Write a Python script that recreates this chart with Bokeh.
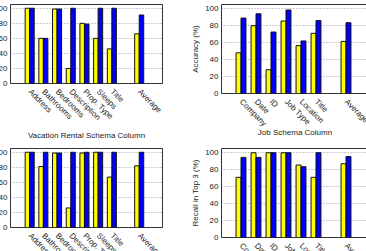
from bokeh.plotting import figure
from bokeh.layouts import column, row
from bokeh.models import FixedTicker, ColumnDataSource, Label, Range1d
from bokeh.transform import dodge
from bokeh.embed import file_html
from bokeh.resources import INLINE

# ---- data ----
vac_cols = ["Address", "Bathrooms", "Bedrooms", "Description", "Prop. Type", "Sleeps", "Title", "Average"]
vac_pos = [0, 1, 2, 3, 4, 5, 6, 8]
vac_acc_yellow = [100, 60, 99, 20, 80, 60, 46, 66]
vac_acc_blue = [100, 60, 99, 100, 79, 100, 100, 91]
vac_rec_yellow = [100, 81, 99, 26, 99, 100, 67, 82]
vac_rec_blue = [100, 100, 99, 100, 100, 100, 100, 100]

job_cols = ["Company", "Date", "ID", "Job Type", "Location", "Title", "Average"]
job_pos = [0, 1, 2, 3, 4, 5, 7]
job_acc_yellow = [48, 80, 28, 85.5, 56.5, 71, 61.5]
job_acc_blue = [89, 94, 72.5, 98.5, 62, 86, 83.5]
job_rec_yellow = [71, 100, 100, 100, 85.5, 71, 87]
job_rec_blue = [94.5, 94.5, 100, 100, 83.5, 100, 95.5]

y_ticks = [0, 20, 40, 60, 80, 100]

FONT = "Liberation Sans"
FS = "8px"
TXT = "#222222"
BW = 0.33


def panel(cats, pos, yel, blu, xr, fw, fh, ylabel=None, xlabel=None, xl_standoff=3,
          mb_right=0, mb_top=4, mb_bottom=0):
    p = figure(frame_width=fw, frame_height=fh, output_backend="svg",
               toolbar_location=None, x_range=Range1d(*xr), y_range=Range1d(0, 105),
               min_border_left=0, min_border_right=mb_right,
               min_border_top=mb_top, min_border_bottom=mb_bottom)
    src = ColumnDataSource(dict(x=pos, yel=yel, blu=blu))
    p.vbar(x=dodge("x", -BW / 2, range=p.x_range), width=BW, top="yel", bottom=0,
           source=src, fill_color="#ffff00", line_color="#111111", line_width=1)
    p.vbar(x=dodge("x", BW / 2, range=p.x_range), width=BW, top="blu", bottom=0,
           source=src, fill_color="#0000ff", line_color="#111111", line_width=1)
    p.xgrid.visible = False
    p.ygrid.ticker = FixedTicker(ticks=y_ticks)
    p.ygrid.grid_line_color = "#999999"
    p.ygrid.grid_line_dash = "1 2"
    p.outline_line_color = "#333333"
    p.outline_line_width = 1
    p.background_fill_color = "white"
    p.border_fill_color = "white"

    p.xaxis.ticker = FixedTicker(ticks=pos)
    p.xaxis.major_label_overrides = {k: c for k, c in zip(pos, cats)}
    p.xaxis.major_label_orientation = -0.785
    p.xaxis.major_tick_out = 0
    p.xaxis.major_tick_in = 0
    p.xaxis.minor_tick_line_color = None
    p.xaxis.axis_line_color = None
    p.xaxis.major_label_text_font = FONT
    p.xaxis.major_label_text_font_size = FS
    p.xaxis.major_label_text_color = TXT
    p.xaxis.major_label_standoff = 7

    p.yaxis.ticker = FixedTicker(ticks=y_ticks)
    p.yaxis.major_tick_out = 0
    p.yaxis.major_tick_in = 0
    p.yaxis.minor_tick_line_color = None
    p.yaxis.axis_line_color = None
    p.yaxis.major_label_text_font = FONT
    p.yaxis.major_label_text_font_size = FS
    p.yaxis.major_label_text_color = TXT
    p.yaxis.major_label_standoff = 3
    if ylabel:
        p.yaxis.axis_label = ylabel
        p.yaxis.axis_label_text_font = FONT
        p.yaxis.axis_label_text_font_size = FS
        p.yaxis.axis_label_text_font_style = "normal"
        p.yaxis.axis_label_text_color = TXT
        p.yaxis.axis_label_standoff = 2
    if xlabel:
        p.xaxis.axis_label = xlabel
        p.xaxis.axis_label_text_font = FONT
        p.xaxis.axis_label_text_font_size = FS
        p.xaxis.axis_label_text_font_style = "normal"
        p.xaxis.axis_label_text_color = TXT
        p.xaxis.axis_label_standoff = xl_standoff
    return p


tl = panel(vac_cols, vac_pos, vac_acc_yellow, vac_acc_blue, (-1.4, 9.7), 152, 79,
           xlabel="Vacation Rental Schema Column", xl_standoff=3, mb_right=26, mb_bottom=61)
tr = panel(job_cols, job_pos, job_acc_yellow, job_acc_blue, (-1.3, 8.5), 147, 89,
           ylabel="Accuracy (%)", xlabel="Job Schema Column", xl_standoff=-6,
           mb_right=14, mb_bottom=51)
tr.add_layout(Label(x=8.35, y=0, y_offset=-38, text="St", text_font=FONT, text_font_size=FS,
                    text_color=TXT, text_baseline="middle"))
bl = panel(vac_cols, vac_pos, vac_rec_yellow, vac_rec_blue, (-1.4, 9.7), 152, 79,
           mb_right=26, mb_bottom=60, mb_top=4)
br = panel(job_cols, job_pos, job_rec_yellow, job_rec_blue, (-1.3, 8.5), 147, 89,
           ylabel="Recall in Top 3 (%)", mb_right=14, mb_bottom=50, mb_top=4)

root = column(row(tl, tr, spacing=0), row(bl, br, spacing=0), spacing=0)
root.styles = {"margin-left": "-9px"}

open("out.html", "w").write(file_html(root, INLINE))
